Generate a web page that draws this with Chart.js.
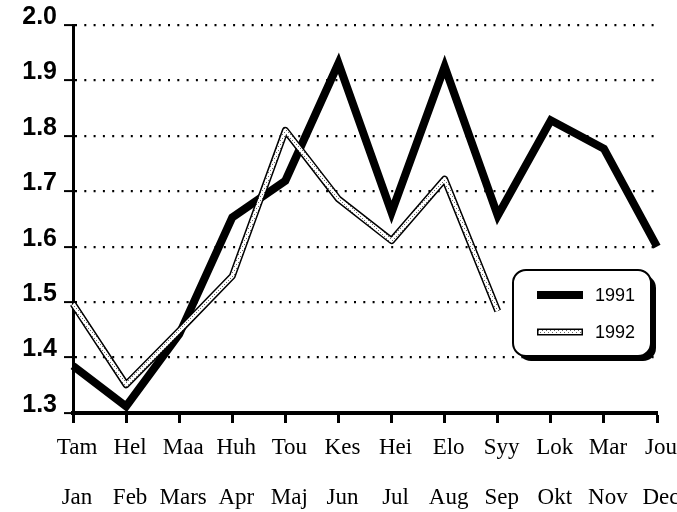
<!DOCTYPE html>
<html>
<head>
<meta charset="utf-8">
<title>1991 / 1992</title>
<script src="https://cdn.jsdelivr.net/npm/chart.js@4/dist/chart.umd.min.js"></script>
<style>
  html, body { margin: 0; padding: 0; background: #fff; }
  #wrap { width: 677px; height: 512px; position: relative; }
</style>
</head>
<body>
<div id="wrap"><canvas id="chart"></canvas></div>
<script>
// Month labels: Finnish on the first row, Swedish below
const monthsFi = ['Tam', 'Hel', 'Maa', 'Huh', 'Tou', 'Kes', 'Hei', 'Elo', 'Syy', 'Lok', 'Mar', 'Jou'];
const monthsSv = ['Jan', 'Feb', 'Mars', 'Apr', 'Maj', 'Jun', 'Jul', 'Aug', 'Sep', 'Okt', 'Nov', 'Dec'];

// Series values
const values1991 = [1.385, 1.312, 1.442, 1.653, 1.719, 1.931, 1.662, 1.925, 1.656, 1.828, 1.777, 1.600];
const values1992 = [1.497, 1.351, 1.448, 1.547, 1.810, 1.686, 1.611, 1.722, 1.484];

// Y axis range
const yMin = 1.3;
const yMax = 2.0;
const yStep = 0.1;

// Small white/grey stipple used inside the 1992 line
function makeStipple() {
    const c = document.createElement('canvas');
    c.width = 4;
    c.height = 4;
    const g = c.getContext('2d');
    g.fillStyle = '#ffffff';
    g.fillRect(0, 0, 4, 4);
    g.fillStyle = '#6a6a6a';
    g.fillRect(0, 0, 1, 1);
    g.fillRect(2, 2, 1, 1);
    return g.createPattern(c, 'repeat');
}
const stipple = makeStipple();

// Rounded legend box with a drop shadow, drawn on top of the plot
const boxLegend = {
    id: 'boxLegend',
    afterDraw(chart) {
        const ctx = chart.ctx;
        const x = 513, y = 270, w = 138, h = 86, r = 13;
        ctx.save();
        ctx.fillStyle = '#000';
        ctx.beginPath();
        ctx.roundRect(x + 5, y + 5, w, h, r);
        ctx.fill();
        ctx.fillStyle = '#fff';
        ctx.strokeStyle = '#000';
        ctx.lineWidth = 2;
        ctx.beginPath();
        ctx.roundRect(x, y, w, h, r);
        ctx.fill();
        ctx.stroke();

        // legend lists 1991 first, then 1992
        const entries = chart.data.datasets.filter(d => d.inLegend).reverse();
        entries.forEach((ds, i) => {
            const ly = y + 25 + i * 37;
            ctx.lineCap = 'butt';
            ctx.strokeStyle = ds.borderColor;
            ctx.lineWidth = ds.borderWidth;
            ctx.beginPath();
            ctx.moveTo(x + 24, ly);
            ctx.lineTo(x + 70, ly);
            ctx.stroke();
            if (ds.innerColor) {
                ctx.strokeStyle = ds.innerColor;
                ctx.lineWidth = 4;
                ctx.beginPath();
                ctx.moveTo(x + 25.5, ly);
                ctx.lineTo(x + 68.5, ly);
                ctx.stroke();
            }
            ctx.fillStyle = '#000';
            ctx.font = '18px "Liberation Sans", Arial, sans-serif';
            ctx.textBaseline = 'middle';
            ctx.textAlign = 'left';
            ctx.fillText(ds.label, x + 82, ly + 1);
        });
        ctx.restore();
    }
};

const ctx = document.getElementById('chart').getContext('2d');
new Chart(ctx, {
    type: 'line',
    data: {
        labels: monthsFi.map((m, i) => [m, monthsSv[i]]),
        datasets: [
            {
                label: '1992 inner',
                data: values1992,
                borderColor: stipple,
                borderWidth: 4,
                borderJoinStyle: 'round',
                pointRadius: 0,
                tension: 0,
                order: 0
            },
            {
                label: '1992',
                inLegend: true,
                innerColor: stipple,
                data: values1992,
                borderColor: '#000',
                borderWidth: 7,
                borderJoinStyle: 'round',
                pointRadius: 0,
                tension: 0,
                order: 1
            },
            {
                label: '1991',
                inLegend: true,
                data: values1991,
                borderColor: '#000',
                borderWidth: 8,
                borderJoinStyle: 'miter',
                pointRadius: 0,
                tension: 0,
                order: 2
            }
        ]
    },
    options: {
        responsive: true,
        maintainAspectRatio: false,
        animation: false,
        layout: {
            padding: { top: 25, right: 20, left: 0, bottom: 0 }
        },
        plugins: {
            legend: { display: false },
            tooltip: { enabled: false }
        },
        scales: {
            x: {
                grid: {
                    drawOnChartArea: false,
                    drawTicks: true,
                    tickLength: 10,
                    tickWidth: 3,
                    tickColor: '#000',
                    color: '#000'
                },
                border: { color: '#000', width: 4 },
                ticks: {
                    color: '#000',
                    padding: 0,
                    labelOffset: 4,
                    maxRotation: 0,
                    autoSkip: false,
                    font: { family: '"Liberation Serif", "Times New Roman", serif', size: 23, lineHeight: '50px' }
                },
                afterFit: s => {
                    s.height = 99;
                    s.paddingLeft = 0;
                    s.paddingRight = 0;
                }
            },
            y: {
                min: yMin,
                max: yMax,
                grid: {
                    color: '#000',
                    lineWidth: 2.2,
                    drawTicks: true,
                    tickLength: 9,
                    tickWidth: 2,
                    tickColor: '#000',
                    tickBorderDash: []
                },
                border: { color: '#000', width: 3, dash: [2, 7.3] },
                ticks: {
                    stepSize: yStep,
                    color: '#000',
                    padding: 7,
                    labelOffset: -8,
                    callback: v => Number(v).toFixed(1),
                    font: { family: '"Liberation Sans", Arial, sans-serif', size: 25, weight: 'bold' }
                },
                afterFit: s => {
                    s.width = 73;
                    s.paddingTop = 0;
                    s.paddingBottom = 0;
                }
            }
        }
    },
    plugins: [boxLegend]
});
</script>
</body>
</html>
